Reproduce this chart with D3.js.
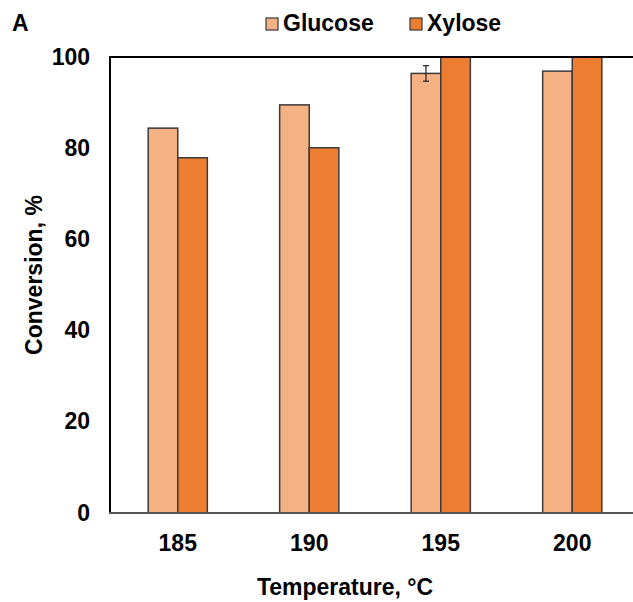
<!DOCTYPE html>
<html lang="en">
<head>
    <meta charset="utf-8">
    <title>Conversion vs Temperature</title>
    <script src="https://d3js.org/d3.v7.min.js"></script>
    <style>
        body { margin: 0; background: white; }
        text { font-family: "Liberation Sans", Arial, sans-serif; font-weight: bold; fill: #000; }
    </style>
</head>
<body>
    <div id="chart"></div>
    <script>
        // data
        const temperatures = ["185", "190", "195", "200"];
        const seriesNames = ["Glucose", "Xylose"];
        const glucose = [84.4, 89.5, 96.4, 96.9];
        const xylose = [77.9, 80.1, 100, 100];
        const glucoseErr = [0, 0, 1.7, 0];
        const xyloseErr = [0, 0, 0, 0];
        const yTicks = [0, 20, 40, 60, 80, 100];
        const colors = ["#F4B183", "#ED7D31"];

        var width = 633, height = 602;
        var plotLeft = 110, plotTop = 57, plotBottom = 513;

        var svg = d3.select("#chart").append("svg")
            .attr("width", width)
            .attr("height", height);

        var y = d3.scaleLinear().domain([0, 100]).range([plotBottom, plotTop]);

        // plot area runs off the right edge of the picture
        var x0 = d3.scaleBand().domain(temperatures).range([112, 638]);
        var bw = x0.bandwidth();
        var x1 = d3.scaleBand().domain(seriesNames).range([bw * 0.275, bw * 0.725]);

        var rows = temperatures.map((t, i) => ({
            t: t,
            vals: [
                {name: "Glucose", v: glucose[i], e: glucoseErr[i]},
                {name: "Xylose", v: xylose[i], e: xyloseErr[i]}
            ]
        }));

        // bars
        var groups = svg.selectAll("g.grp").data(rows).enter().append("g")
            .attr("class", "grp")
            .attr("transform", d => "translate(" + x0(d.t) + ",0)");

        groups.selectAll("rect").data(d => d.vals).enter().append("rect")
            .attr("x", d => x1(d.name))
            .attr("y", d => y(d.v))
            .attr("width", x1.bandwidth())
            .attr("height", d => plotBottom - y(d.v))
            .attr("fill", (d, i) => colors[i])
            .attr("stroke", "#3a3a3a")
            .attr("stroke-width", 1.5);

        // error bars
        groups.selectAll("g.err").data(d => d.vals.filter(v => v.e > 0)).enter().append("g")
            .attr("class", "err")
            .each(function (d) {
                var cx = x1(d.name) + x1.bandwidth() / 2;
                var g = d3.select(this);
                g.append("line").attr("x1", cx).attr("x2", cx)
                    .attr("y1", y(d.v + d.e)).attr("y2", y(d.v - d.e));
                g.append("line").attr("x1", cx - 3).attr("x2", cx + 3)
                    .attr("y1", y(d.v + d.e)).attr("y2", y(d.v + d.e));
                g.append("line").attr("x1", cx - 3).attr("x2", cx + 3)
                    .attr("y1", y(d.v - d.e)).attr("y2", y(d.v - d.e));
            })
            .selectAll("line").attr("stroke", "#222").attr("stroke-width", 1.2);

        // frame: top, left, bottom
        svg.append("line").attr("x1", plotLeft).attr("x2", width).attr("y1", plotTop).attr("y2", plotTop)
            .attr("stroke", "#000").attr("stroke-width", 2);
        svg.append("line").attr("x1", plotLeft).attr("x2", plotLeft).attr("y1", plotTop - 1).attr("y2", plotBottom)
            .attr("stroke", "#000").attr("stroke-width", 2);
        svg.append("line").attr("x1", plotLeft - 1).attr("x2", width).attr("y1", plotBottom).attr("y2", plotBottom)
            .attr("stroke", "#555").attr("stroke-width", 2);

        // y axis labels
        var yAxis = svg.append("g")
            .attr("transform", "translate(" + (plotLeft - 20) + ",0)")
            .call(d3.axisLeft(y).tickValues(yTicks).tickSize(0).tickPadding(0));
        yAxis.select(".domain").remove();
        yAxis.selectAll("text")
            .attr("dy", null)
            .attr("y", 7)
            .style("font-size", "23px")
            .style("font-family", "'Liberation Sans', Arial, sans-serif")
            .style("font-weight", "bold")
            .attr("fill", "#000");

        // x axis labels
        var xAxis = svg.append("g")
            .attr("transform", "translate(0," + plotBottom + ")")
            .call(d3.axisBottom(x0).tickSize(0).tickPadding(0));
        xAxis.select(".domain").remove();
        xAxis.selectAll("text")
            .attr("dy", null)
            .attr("y", 38)
            .style("font-size", "23px")
            .style("font-family", "'Liberation Sans', Arial, sans-serif")
            .style("font-weight", "bold")
            .attr("fill", "#000");

        // axis titles
        svg.append("text")
            .attr("x", 345).attr("y", 595)
            .attr("text-anchor", "middle")
            .style("font-size", "23px")
            .text("Temperature, °C");

        svg.append("text")
            .attr("transform", "translate(42,275) rotate(-90)")
            .attr("text-anchor", "middle")
            .style("font-size", "23px")
            .text("Conversion, %");

        // panel letter
        svg.append("text")
            .attr("x", 12).attr("y", 31)
            .style("font-size", "23px")
            .text("A");

        // legend
        var legendX = [266, 410];
        var legend = svg.selectAll("g.leg").data(seriesNames).enter().append("g")
            .attr("class", "leg")
            .attr("transform", (d, i) => "translate(" + legendX[i] + ",18)");
        legend.append("rect")
            .attr("width", 12).attr("height", 12)
            .attr("fill", (d, i) => colors[i])
            .attr("stroke", "#3a3a3a").attr("stroke-width", 1.2);
        legend.append("text")
            .attr("x", 17).attr("y", 12.5)
            .style("font-size", "23px")
            .text(d => d);
    </script>
</body>
</html>
